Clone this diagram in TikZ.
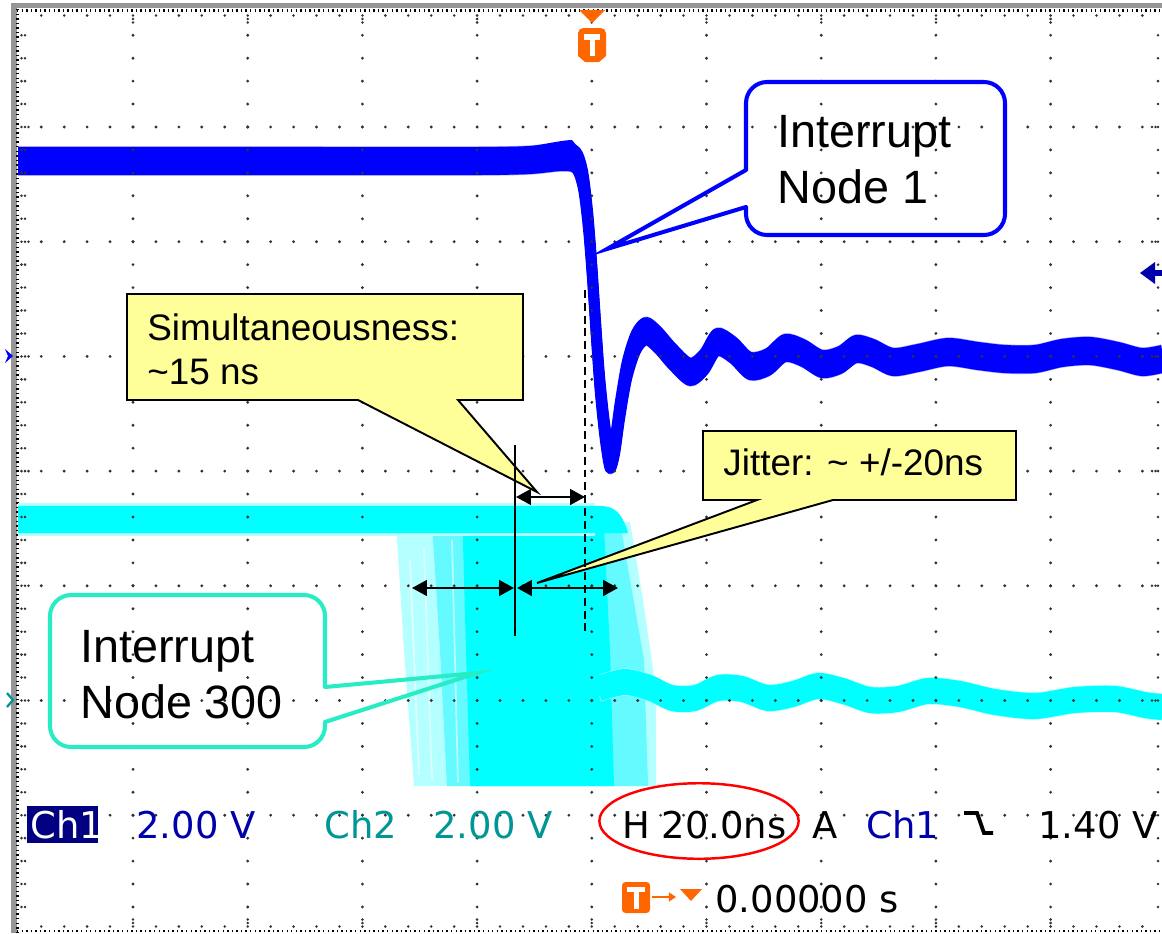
\documentclass[tikz,border=0pt]{standalone}
\usepackage{fontspec}
\setmainfont{Liberation Sans}
\newfontfamily\scopefnt{DejaVu Sans}
\usetikzlibrary{arrows.meta}
\definecolor{trblue}{RGB}{0,0,255}
\definecolor{trbluel}{RGB}{160,160,255}
\definecolor{cy}{RGB}{0,255,255}
\definecolor{cyl}{RGB}{180,255,255}
\definecolor{cym}{RGB}{100,250,255}
\definecolor{navy}{RGB}{0,0,128}
\definecolor{dkblue}{RGB}{0,0,170}
\definecolor{teal2}{RGB}{0,150,150}
\definecolor{org}{RGB}{255,102,0}
\definecolor{aqua}{RGB}{40,236,196}
\definecolor{yel}{RGB}{255,255,153}
\definecolor{dotc}{RGB}{50,50,50}
\definecolor{framec}{RGB}{150,150,150}
\begin{document}
\begin{tikzpicture}[x=0.02cm,y=-0.02cm,
  dot/.style={fill=dotc},
  ticks/.style={draw=black,line width=1.3pt,dash pattern=on 0.8pt off 1.8pt},
  ch1/.style={draw=trblue,line width=5.7pt,line join=round,line cap=butt},
  ch1h/.style={draw=trbluel,line width=3pt,line join=round,line cap=butt},
  ch2/.style={draw=cy,line width=5.7pt,line join=round,line cap=butt},
  ch2h/.style={draw=cyl,line width=3pt,line join=round,line cap=butt},
  arr/.style={line width=1.1pt,{Triangle[length=8.5pt,width=9pt]}-{Triangle[length=8.5pt,width=9pt]}},
  dashln/.style={line width=1pt,dash pattern=on 4.5pt off 2.8pt},
  ybox/.style={fill=yel,draw=black,line width=1.1pt,line join=miter},
  rbox1/.style={draw=trblue,line width=2.3pt,rounded corners=12pt},
  ptr1/.style={draw=trblue,line width=2.3pt,line cap=round,line join=miter},
  rbox3/.style={draw=aqua,line width=2.3pt,rounded corners=12pt},
  ptr3/.style={draw=aqua,line width=2.3pt,line cap=round,line join=miter},
  big/.style={font=\fontsize{26.6pt}{31pt}\selectfont,anchor=base west,inner sep=0pt},
  mid/.style={font=\fontsize{21pt}{25pt}\selectfont,anchor=base west,inner sep=0pt},
  scp/.style={font=\scopefnt\fontsize{21pt}{25pt}\selectfont,anchor=base west,inner sep=0pt}]
\useasboundingbox (0,0) rectangle (1162,933);
\fill[white] (0,0) rectangle (1162,933);

% frame
\fill[framec] (11,4) rectangle (16.5,933);
\fill[framec] (11,3) rectangle (1162,7.5);
\draw[ticks] (17.5,9) -- (17.5,933);
\draw[ticks] (17,10.5) -- (1162,10.5);
\draw[ticks] (17,931) -- (1162,931);

% channel 2 transition region
\fill[cyl] (396,522) -- (404,650) -- (414,786) -- (656,786) -- (656,690) -- (643,600) -- (630,522) -- cycle;
\fill[cym] (432,522) -- (440,650) -- (447,786) -- (648,786) -- (644,660) -- (620,522) -- cycle;
\fill[cy] (462,507) -- (466,650) -- (470,786) -- (614,786) -- (610,650) -- (603,507) -- cycle;
\draw[white,opacity=.6,line width=1pt] (410,560) -- (419,775);
\draw[white,opacity=.5,line width=1pt] (424,548) -- (432,780);
\draw[cyl,line width=1pt] (452,540) -- (458,782);

% channel 2 high level
\fill[cyl] (18,503) rectangle (595,536);
\fill[cy] (18,506) -- (600,506) .. controls (614,506) and (622,512) .. (628,533) -- (18,533) -- cycle;

% channel 2 low level
\foreach \dy in {-11,11}{
\draw[ch2h,shift={(0,\dy)}] plot[smooth,tension=0.5] coordinates {(600,688) (625,682) (650,688) (672,698) (695,698) (718,688) (742,689) (768,698) (793,694) (818,686) (843,691) (870,700) (898,699) (928,691) (960,694) (995,702) (1035,706) (1075,700) (1115,699) (1145,705) (1162,707)};
}
\foreach \dy in {-8,-4,0,4,8}{
\draw[ch2,shift={(0,\dy)}] plot[smooth,tension=0.5] coordinates {(600,688) (625,682) (650,688) (672,698) (695,698) (718,688) (742,689) (768,698) (793,694) (818,686) (843,691) (870,700) (898,699) (928,691) (960,694) (995,702) (1035,706) (1075,700) (1115,699) (1145,705) (1162,707)};
}

% channel 1
\foreach \dy in {-12,12}{
\draw[ch1h,shift={(0,\dy)}] plot[smooth,tension=0.5] coordinates {(18,161) (300,161) (480,161) (530,160) (562,157) (576,160) (583,180) (588,220) (592,270) (596,330) (600,385) (605,432) (610,460) (615,445) (620,410) (627,370) (636,342) (646,331) (658,340) (672,356) (690,372) (704,362) (717,342) (733,350) (750,366) (768,362) (785,348) (803,353) (822,364) (840,360) (856,349) (873,353) (893,362) (918,358) (948,352) (978,356) (1005,359) (1035,359) (1062,353) (1090,351) (1118,356) (1142,362) (1162,359)};
}
\foreach \dy in {-9,-4.5,0,4.5,9}{
\draw[ch1,shift={(0,\dy)}] plot[smooth,tension=0.5] coordinates {(18,161) (300,161) (480,161) (530,160) (562,157) (576,160) (583,180) (588,220) (592,270) (596,330) (600,385) (605,432) (610,460) (615,445) (620,410) (627,370) (636,342) (646,331) (658,340) (672,356) (690,372) (704,362) (717,342) (733,350) (750,366) (768,362) (785,348) (803,353) (822,364) (840,360) (856,349) (873,353) (893,362) (918,358) (948,352) (978,356) (1005,359) (1035,359) (1062,353) (1090,351) (1118,356) (1142,362) (1162,359)};
}
\foreach \dy in {-4,4}{
\draw[ch1,shift={(0,\dy)}] plot[smooth,tension=0.5] coordinates {(627,370) (636,342) (646,331) (658,340) (672,356) (690,372) (704,362) (717,342) (733,350) (750,366) (768,362) (785,348)};
}
\fill[trblue] (500,150) .. controls (530,148) and (560,140) .. (572,140) -- (580,150) -- (580,165) -- (500,165) -- cycle;

% graticule dots
\foreach \i in {1,...,9}{
  \foreach \k in {1,...,39}{
    \fill[dot] ({18.3+114.7*\i},{12.3+22.94*\k}) circle[radius=0.9pt];
  }
}
\foreach \j in {1,...,7}{
  \foreach \k in {1,...,49}{
    \fill[dot] ({18.3+22.94*\k},{12.3+114.7*\j}) circle[radius=0.9pt];
  }
}
% edge ticks
\foreach \k in {1,...,39}{
  \fill[dot] (21.5,{12.3+22.94*\k}) circle[radius=0.8pt];
  \fill[dot] (25,{12.3+22.94*\k}) circle[radius=0.8pt];
  \fill[dot] (1158,{12.3+22.94*\k}) circle[radius=0.8pt];
}
\foreach \k in {5,10,...,35}{
  \fill[dot] (28.5,{12.3+22.94*\k}) circle[radius=0.8pt];
  \fill[dot] (1152,{12.3+22.94*\k}) circle[radius=0.8pt];
  \fill[dot] (1155.5,{12.3+22.94*\k}) circle[radius=0.8pt];
}
\foreach \k in {1,...,49}{
  \fill[dot] ({18.3+22.94*\k},15.5) circle[radius=0.8pt];
  \fill[dot] ({18.3+22.94*\k},926.5) circle[radius=0.8pt];
}
\foreach \k in {5,10,...,45}{
  \fill[dot] ({18.3+22.94*\k},19) circle[radius=0.8pt];
  \fill[dot] ({18.3+22.94*\k},22.5) circle[radius=0.8pt];
  \fill[dot] ({18.3+22.94*\k},923) circle[radius=0.8pt];
  \fill[dot] ({18.3+22.94*\k},919.5) circle[radius=0.8pt];
}

% side markers
\fill[trblue] (5,349) -- (13,356) -- (5,363) -- (8,356) -- cycle;
\draw[teal2,line width=1.3pt] (7,693) -- (13,700) -- (7,707);
\fill[dkblue] (1140,273) -- (1155,262) -- (1155,284) -- cycle;
\fill[dkblue] (1152,270) rectangle (1162,276);

% trigger marker top
\fill[org] (579,10) -- (605,10) -- (592,23) -- cycle;
\fill[org,rounded corners=3pt] (578,28) rectangle (606,54);
\fill[org] (578,48) -- (606,48) -- (606,56) -- (599,62) -- (585,62) -- (578,56) -- cycle;
\fill[white] (584,34) rectangle (600,40);
\fill[white] (589.5,34) rectangle (594.5,56);

% callouts
\coordinate (tS) at (537,492);
\coordinate (tJ) at (537,583);
\coordinate (t1) at (607,249);
\coordinate (t3) at (477,673);
\filldraw[ybox] (127,294) -- (523,294) -- (523,400) -- (458,400) -- (tS) -- (358,400) -- (127,400) -- cycle;
\filldraw[ybox] (703,431) -- (1016,431) -- (1016,500) -- (833,500) -- (tJ) -- (757,500) -- (703,500) -- cycle;
\draw[rbox1] (746,207) -- (746,235) -- (1005,235) -- (1005,82) -- (746,82) -- (746,170);
\draw[ptr1] (746,170) -- (t1) -- (746,207);
\draw[rbox3] (325,722) -- (325,747) -- (50,747) -- (50,595) -- (325,595) -- (325,687);
\draw[ptr3] (325,687) -- (t3) -- (325,722);

\node[big] (n1a) at (777,147) {Interrupt};
\node[big] (n1b) at (777,203) {Node 1};
\node[big] (n3a) at (80,662) {Interrupt};
\node[big] (n3b) at (80,718) {Node 300};
\node[mid] (sa) at (147,340) {Simultaneousness:};
\node[mid] (sb) at (147,384) {\textasciitilde15 ns};
\node[mid] (ja) at (723,475) {Jitter: \textasciitilde{} +/-20ns};

% measurement lines
\coordinate (vS) at (515,445); \coordinate (vE) at (515,636);
\draw[line width=1.1pt] (vS) -- (vE);
\coordinate (dS) at (585,290); \coordinate (dE) at (585,636);
\draw[dashln] (dS) -- (dE);
\coordinate (a1) at (516,497); \coordinate (a2) at (585,497);
\draw[arr] (a1) -- (a2);
\coordinate (b1) at (412,588); \coordinate (b2) at (514,588);
\coordinate (b3) at (517,588); \coordinate (b4) at (618,588);
\draw[arr] (b1) -- (b2);
\draw[arr] (b3) -- (b4);

% readout
\fill[navy] (27,806) rectangle (98,843);
\node[scp,text=white] (c1) at (30,838) {Ch1};
\node[scp,text=dkblue] (v1) at (136,838) {2.00 V};
\node[scp,text=teal2] (c2) at (324,838) {Ch2};
\node[scp,text=teal2] (v2) at (433,838) {2.00 V};
\node[scp] (hs) at (622,838) {H 20.0ns};
\node[scp] (aa) at (812,838) {A};
\node[scp,text=dkblue] (c1b) at (866,838) {Ch1};
\draw[line width=2.2pt] (964,813) -- (977,813) -- (984,833) -- (993,833);
\node[scp] (lv) at (1038,838) {1.40 V};
\draw[red,line width=1.4pt] (699,821) ellipse [x radius=56.7pt,y radius=21.5pt];

\fill[org,rounded corners=2pt] (622,882) rectangle (650,913);
\fill[white] (627,887) rectangle (645,892);
\fill[white] (633.5,887) rectangle (638.5,909);
\draw[org,line width=1.6pt,-{Triangle[length=4pt,width=5pt]}] (652,897) -- (676,897);
\fill[org] (680,889) -- (702,889) -- (691,901) -- cycle;
\node[scp] (ts) at (715,912) {0.00000 s};
\end{tikzpicture}
\end{document}
